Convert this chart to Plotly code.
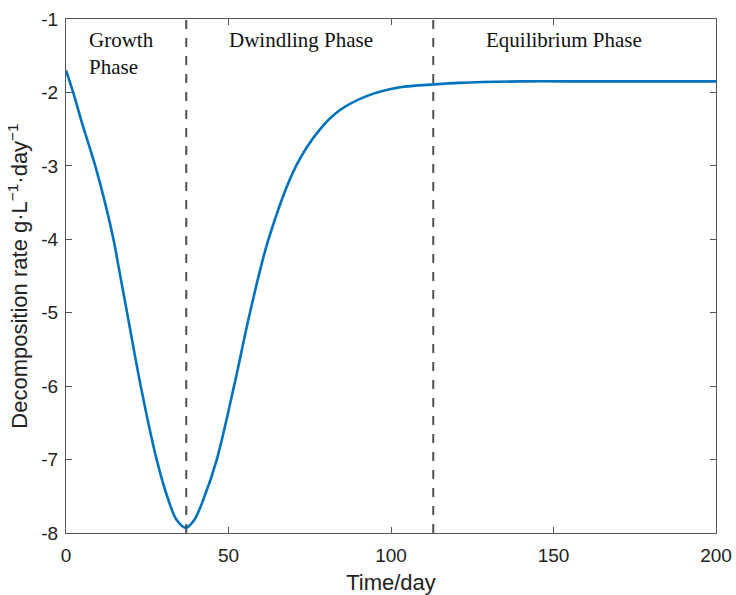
import plotly.graph_objects as go

time_day = [0, 2.2, 5.3, 9.0, 12.0, 14.6, 16.7, 18.8, 23, 27.9, 31.5, 34, 36.9, 39.5, 42.2,
            46.4, 51.7, 56.6, 62.3, 70.8, 78.2, 84.0, 92.5, 102.8, 113.5,
            121, 140, 160, 180, 200]
rate = [-1.70, -2.0, -2.47, -3.0, -3.5, -4.0, -4.5, -5.0, -6.0, -7.0, -7.55, -7.82, -7.93,
        -7.82, -7.55, -7.0, -6.0, -5.0, -4.0, -3.0, -2.5, -2.25, -2.05, -1.93, -1.89,
        -1.87, -1.85, -1.85, -1.85, -1.85]
phase_bounds = [37, 113]
phase_labels = ["Growth<br>Phase", "Dwindling Phase", "Equilibrium Phase"]
phase_label_x = [6.5, 49.5, 128.5]
x_ticks = [0, 50, 100, 150, 200]
x_tick_text = ["0", "50", "100", "150", "200"]
y_ticks = [-8, -7, -6, -5, -4, -3, -2, -1]
y_tick_text = ["-8", "-7", "-6", "-5", "-4", "-3", "-2", "-1"]

fig = go.Figure()
fig.add_trace(go.Scatter(x=time_day, y=rate, mode="lines",
                         line=dict(color="#0072BD", width=2.6, shape="spline", smoothing=0.9),
                         showlegend=False))

for b in phase_bounds:
    fig.add_shape(type="line", xref="x", yref="paper", x0=b, x1=b, y0=0, y1=1,
                  line=dict(color="#505050", width=2, dash="dash"))

for lbl, lx in zip(phase_labels, phase_label_x):
    fig.add_annotation(x=lx, y=-1.1, xref="x", yref="y", text=lbl, showarrow=False,
                       xanchor="left", yanchor="top", align="left",
                       font=dict(family="Liberation Serif", size=21, color="#111"))

axis_common = dict(showline=True, linecolor="#555", linewidth=1, mirror="ticks",
                   ticks="inside", ticklen=6, tickcolor="#555", showgrid=False, zeroline=False,
                   automargin=False,
                   tickfont=dict(family="Liberation Sans", size=19, color="#222"))

fig.update_layout(
    width=736, height=595,
    margin=dict(l=66, r=20, t=19, b=62),
    paper_bgcolor="white", plot_bgcolor="white",
    xaxis=dict(range=[0, 200], tickvals=x_ticks, ticktext=x_tick_text, ticklabelstandoff=5,
               title=dict(text="Time/day", standoff=19,
                          font=dict(family="Liberation Sans", size=22, color="#222")),
               **axis_common),
    yaxis=dict(range=[-8, -1], tickvals=y_ticks, ticktext=y_tick_text, ticklabelstandoff=3,
               title=dict(text="Decomposition rate g·L<sup>−1</sup>·day<sup>−1</sup>", standoff=7,
                          font=dict(family="Liberation Sans", size=22, color="#222")),
               **axis_common),
)

fig.write_html("out.html", config={"displayModeBar": False},
               post_script="document.body.style.margin='0px';document.body.style.overflow='hidden';")
